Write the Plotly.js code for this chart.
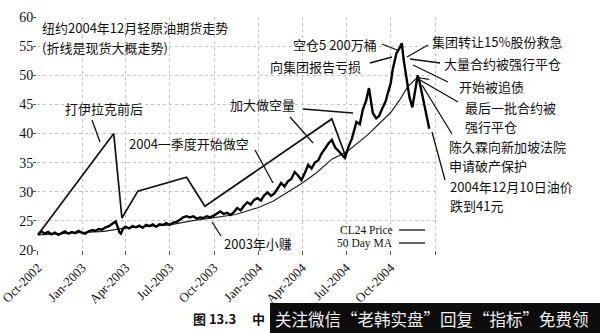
<!DOCTYPE html>
<html>
<head>
<meta charset="utf-8">
<script src="https://cdn.plot.ly/plotly-3.0.1.min.js"></script>
<style>html,body{margin:0;padding:0;background:#fff;}#chart{width:600px;height:333px;}</style>
</head>
<body>
<div id="chart"></div>
<script>
// ---------- data ----------
const priceDates = ["2002-10-01","2002-10-08","2002-10-15","2002-10-22","2002-10-29","2002-11-05","2002-11-12","2002-11-19","2002-11-26","2002-12-03","2002-12-10","2002-12-17","2002-12-24","2002-12-31","2003-01-07","2003-01-14","2003-01-21","2003-01-28","2003-02-04","2003-02-11","2003-02-18","2003-02-25","2003-03-04","2003-03-11","2003-03-15","2003-03-19","2003-03-22","2003-03-26","2003-03-31","2003-04-08","2003-04-15","2003-04-22","2003-04-29","2003-05-06","2003-05-13","2003-05-20","2003-05-27","2003-06-03","2003-06-10","2003-06-17","2003-06-24","2003-07-01","2003-07-08","2003-07-15","2003-07-22","2003-07-29","2003-08-05","2003-08-12","2003-08-19","2003-08-26","2003-09-02","2003-09-09","2003-09-16","2003-09-23","2003-09-30","2003-10-07","2003-10-14","2003-10-21","2003-10-28","2003-11-04","2003-11-11","2003-11-18","2003-11-25","2003-12-02","2003-12-09","2003-12-16","2003-12-23","2003-12-30","2004-01-06","2004-01-13","2004-01-20","2004-01-27","2004-02-03","2004-02-10","2004-02-17","2004-02-24","2004-03-02","2004-03-09","2004-03-16","2004-03-23","2004-03-30","2004-04-06","2004-04-13","2004-04-20","2004-04-27","2004-05-04","2004-05-11","2004-05-18","2004-05-25","2004-06-01","2004-06-08","2004-06-15","2004-06-22","2004-06-28","2004-07-06","2004-07-13","2004-07-22","2004-07-29","2004-08-04","2004-08-11","2004-08-17","2004-08-21","2004-08-25","2004-09-01","2004-09-07","2004-09-14","2004-09-21","2004-09-25","2004-10-01","2004-10-05","2004-10-13","2004-10-19","2004-10-24","2004-10-28","2004-11-03","2004-11-09","2004-11-15","2004-11-20","2004-11-26","2004-11-30","2004-12-08","2004-12-20"];
const priceVals = [22.6,23.2,22.8,23.1,22.7,23.0,22.6,22.9,23.2,22.8,23.1,22.9,23.3,23.0,22.8,23.2,23.4,23.3,23.6,23.5,23.9,24.1,24.5,24.9,24.0,23.0,22.8,23.6,24.0,23.7,24.1,23.9,24.2,23.8,24.3,24.1,24.4,24.0,24.4,24.3,24.6,24.3,24.7,24.8,25.2,25.6,25.8,25.6,25.8,25.4,25.6,25.5,25.8,25.6,25.9,26.2,26.6,26.2,26.4,26.0,26.5,27.2,26.8,27.6,28.2,27.8,28.6,28.9,28.5,29.4,29.9,29.3,29.7,30.6,31.5,30.9,31.8,32.2,33.4,32.8,32.0,33.2,34.6,34.0,35.0,35.4,36.6,37.4,38.3,38.9,37.6,37.0,36.4,35.8,37.8,39.2,42.0,41.6,44.0,45.6,47.8,45.7,43.5,42.6,43.0,44.4,45.6,46.9,48.6,50.9,53.8,54.6,55.5,52.6,49.7,46.2,44.5,47.0,50.0,48.8,45.7,40.8];

const maDates = ["2002-10-01","2002-11-15","2003-01-01","2003-02-15","2003-04-01","2003-05-15","2003-07-01","2003-08-15","2003-10-01","2003-11-15","2004-01-01","2004-02-01","2004-03-01","2004-04-01","2004-05-01","2004-06-01","2004-07-01","2004-08-15","2004-09-05","2004-10-01","2004-10-20","2004-11-05","2004-11-25","2004-12-20"];
const maVals = [22.6,22.8,22.9,23.2,23.8,24.0,24.3,25.0,25.6,26.1,27.3,28.4,29.9,31.5,33.3,35.6,36.8,39.8,41.5,43.6,45.8,48.0,49.6,49.3];

const spotDates = ["2002-10-01","2003-03-07","2003-03-24","2003-04-26","2003-08-05","2003-09-12","2004-06-01","2004-06-30"];
const spotVals = [22.6,40.0,25.5,30.1,32.5,27.5,42.5,36.0];

const tickDates = ["2002-10-01","2003-01-01","2003-04-01","2003-07-01","2003-10-01","2004-01-01","2004-04-01","2004-07-01","2004-10-01","2005-01-01"];
const tickLabels = ["Oct-2002","Jan-2003","Apr-2003","Jul-2003","Oct-2003","Jan-2004","Apr-2004","Jul-2004","Oct-2004",""];
const yTicks = [20,25,30,35,40,45,50,55,60];
const legendNames = ["CL24 Price","50 Day MA"];

// ---------- layout helpers (pixel -> paper) ----------
const L = 37, R = 437, T = 17, B = 250;
const W = R - L, H = B - T;
const px = x => (x - L) / W;
const py = y => (B - y) / H;

const cjk = '"Noto Sans CJK SC", "Noto Sans", sans-serif';
const serif = '"Liberation Serif", "DejaVu Serif", serif';

const labels = [
  {t:"纽约2004年12月轻原油期货走势", x:40, y:28},
  {t:"(折线是现货大概走势)", x:40, y:47},
  {t:"打伊拉克前后", x:63, y:108},
  {t:"2004一季度开始做空", x:127, y:143},
  {t:"加大做空量", x:228, y:104},
  {t:"空仓5 200万桶", x:291, y:44},
  {t:"向集团报告亏损", x:268, y:66},
  {t:"集团转让15%股份救急", x:430, y:42},
  {t:"大量合约被强行平仓", x:442, y:64},
  {t:"开始被追债", x:457, y:87},
  {t:"最后一批合约被", x:463, y:107},
  {t:"强行平仓", x:463, y:126},
  {t:"陈久霖向新加坡法院", x:447, y:146},
  {t:"申请破产保护", x:447, y:165},
  {t:"2004年12月10日油价", x:448, y:186},
  {t:"跌到41元", x:448, y:205},
  {t:"2003年小赚", x:222, y:243}
];

const pointers = [
  [92,120,100,142],
  [255,150,273,183],
  [290,117,313,143],
  [303,109,353,113],
  [382,44,397,50],
  [370,63,392,57],
  [428,45,407,57],
  [440,63,410,59],
  [448,82,413,65],
  [458,102,420,80],
  [452,134,422,85],
  [445,180,432,132],
  [221,236,212,222]
];

const annotations = labels.map(a => ({
  text: a.t, xref:'paper', yref:'paper', x: px(a.x), y: py(a.y),
  xanchor:'left', yanchor:'middle', showarrow:false, align:'left',
  font:{family:cjk, size:13, color:'#111'}
}));

// legend texts
annotations.push({text:legendNames[0], xref:'paper', yref:'paper', x:px(395), y:py(230), xanchor:'right', yanchor:'middle', showarrow:false, font:{family:serif, size:11.5, color:'#111'}});
annotations.push({text:legendNames[1], xref:'paper', yref:'paper', x:px(395), y:py(243), xanchor:'right', yanchor:'middle', showarrow:false, font:{family:serif, size:11.5, color:'#111'}});
// caption
annotations.push({text:"<b>图 13.3</b>　 <b>中</b>", xref:'paper', yref:'paper', x:px(191), y:py(318), xanchor:'left', yanchor:'middle', showarrow:false, font:{family:cjk, size:13, color:'#111'}});
// watermark text
annotations.push({text:"关注微信“老韩实盘”回复“指标”免费领", xref:'paper', yref:'paper', x:px(273), y:py(319), xanchor:'left', yanchor:'middle', showarrow:false, font:{family:cjk, size:16.5, color:'#eeeeee'}});

const shapes = pointers.map(p => ({
  type:'line', xref:'paper', yref:'paper', x0:px(p[0]), y0:py(p[1]), x1:px(p[2]), y1:py(p[3]),
  line:{color:'#111', width:1.3}
}));
shapes.push({type:'line', xref:'paper', yref:'paper', x0:px(399), x1:px(425), y0:py(230), y1:py(230), line:{color:'#111', width:1.3}});
shapes.push({type:'line', xref:'paper', yref:'paper', x0:px(399), x1:px(425), y0:py(243), y1:py(243), line:{color:'#111', width:1.3}});
shapes.push({type:'rect', xref:'paper', yref:'paper', x0:px(270), x1:px(600), y0:py(303), y1:py(333), fillcolor:'#0d0d0d', line:{width:0}, layer:'above'});

const traces = [
  {x: maDates, y: maVals, type:'scatter', mode:'lines', line:{color:'#222', width:1.2}, name:legendNames[1]},
  {x: spotDates, y: spotVals, type:'scatter', mode:'lines', line:{color:'#111', width:1.7}, name:'spot'},
  {x: priceDates, y: priceVals, type:'scatter', mode:'lines', line:{color:'#000', width:2.4}, name:legendNames[0]}
];

const layout = {
  width:600, height:333,
  margin:{l:L, r:600-R, t:T, b:333-B, pad:0},
  paper_bgcolor:'#fff', plot_bgcolor:'#fff',
  showlegend:false,
  xaxis:{
    type:'date', range:['2002-09-29','2005-01-05'],
    tickmode:'array', tickvals:tickDates, ticktext:tickLabels, tickangle:-45,
    ticks:'outside', ticklen:4, tickcolor:'#555',
    ticklabeloverflow:'allow',
    showgrid:true, gridcolor:'#c4c4c4', griddash:'dot', gridwidth:1,
    showline:false, zeroline:false,
    tickfont:{family:serif, size:13, color:'#111'}
  },
  yaxis:{
    range:[20,60], tickvals:yTicks,
    ticks:'outside', ticklen:3, tickcolor:'#555',
    ticklabelstandoff:-3,
    showgrid:true, gridcolor:'#c4c4c4', griddash:'dot', gridwidth:1,
    showline:false, zeroline:false,
    tickfont:{family:serif, size:14, color:'#111'}
  },
  annotations: annotations,
  shapes: shapes
};

Plotly.newPlot('chart', traces, layout, {staticPlot:true, displayModeBar:false});
</script>
</body>
</html>
